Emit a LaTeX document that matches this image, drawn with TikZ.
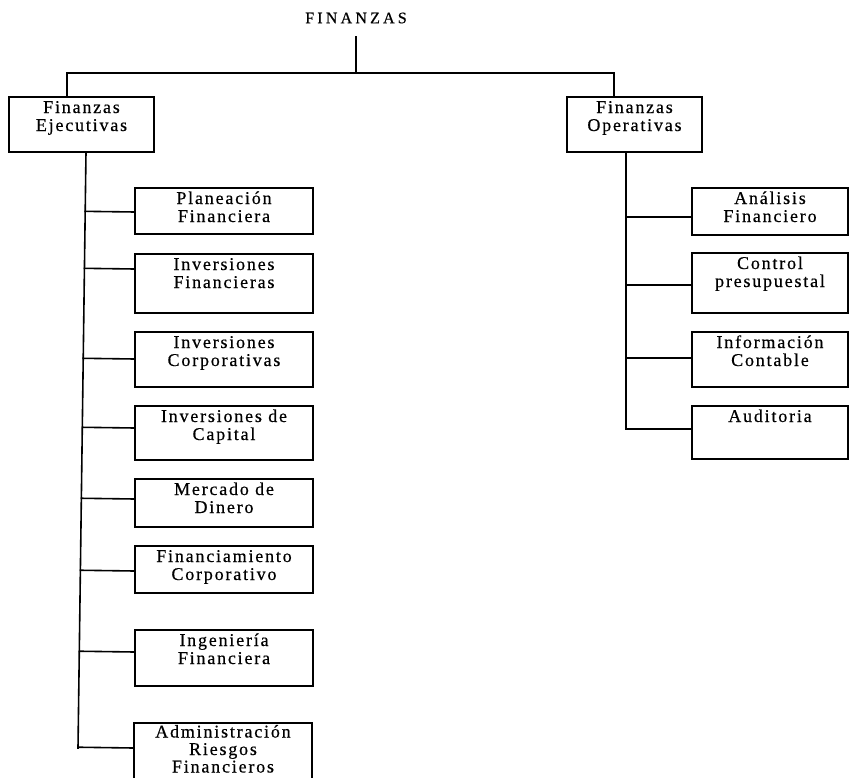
\documentclass[tikz,border=0pt]{standalone}
\usepackage{fontspec}
\setmainfont{Liberation Serif}[LetterSpace=10,FakeBold=0.5]
\usetikzlibrary{calc}
\newcommand\bxtxt[4][16pt]{\parbox[t][#3][t]{#2}{\centering\rule{0pt}{#1}#4}}
\begin{document}
\begin{tikzpicture}[x=1pt,y=-1pt,
  box/.style={draw, line width=1.4pt, inner sep=0pt, outer sep=0pt, anchor=north west, font=\fontsize{18}{18}\selectfont},
  conn/.style={line width=1.6pt, line cap=rect}]
\useasboundingbox (0,0) rectangle (850,777);
\clip (0,0) rectangle (850,777);
\node[font=\fontsize{16}{18}\selectfont\addfontfeature{LetterSpace=20}, inner sep=0pt] (title) at (356,18) {FINANZAS};
\node[box] (fe) at (9,97) {\bxtxt{145pt}{55pt}{Finanzas\\Ejecutivas}};
\node[box] (fo) at (567,97) {\bxtxt{135pt}{55pt}{Finanzas\\Operativas}};
% left column
\node[box] (pl)  at (135,188) {\bxtxt{178pt}{46pt}{Planeación\\Financiera}};
\node[box] (ifn) at (135,254) {\bxtxt{178pt}{59pt}{Inversiones\\Financieras}};
\node[box] (ico) at (135,332) {\bxtxt{178pt}{55pt}{Inversiones\\Corporativas}};
\node[box] (ica) at (135,406) {\bxtxt{178pt}{54pt}{Inversiones de\\Capital}};
\node[box] (md)  at (135,479) {\bxtxt{178pt}{48pt}{Mercado de\\Dinero}};
\node[box] (fc)  at (135,546) {\bxtxt{178pt}{47pt}{Financiamiento\\Corporativo}};
\node[box] (ing) at (135,630) {\bxtxt{178pt}{56pt}{Ingeniería\\Financiera}};
\node[box, font=\fontsize{18}{17.5}\selectfont] (adm) at (134,723) {\bxtxt[14.5pt]{178pt}{70pt}{Administración\\Riesgos\\Financieros}};
% right column
\node[box] (an) at (692,188) {\bxtxt{156pt}{47pt}{Análisis\\Financiero}};
\node[box] (cp) at (692,253) {\bxtxt{156pt}{60pt}{Control\\presupuestal}};
\node[box] (ic) at (692,332) {\bxtxt{156pt}{55pt}{Información\\Contable}};
\node[box] (au) at (692,406) {\bxtxt{156pt}{53pt}{Auditoria}};
% top connectors
\coordinate (t0) at (356,37);
\coordinate (j) at (356,73);
\coordinate (jl) at (67,73);
\coordinate (jr) at (614,73);
\draw[conn] (t0) -- (j);
\draw[conn] (jl |- fe.north) -- (jl) -- (jr) -- (jr |- fo.north);
% left trunk
\coordinate (lt0) at (fe.south -| 86,0);
\coordinate (lt1) at (78,748);
\draw[conn] (lt0) -- (lt1);
\foreach \b/\y in {pl/212, ifn/269, ico/359, ica/428, md/499, fc/571, ing/652, adm/748}{
  \coordinate (p\b) at (\b.west |- 0,\y);
  \draw[conn] ($(lt0)!(p\b)!(lt1)$) -- (p\b);
}
% right trunk
\coordinate (rt0) at (fo.south -| 626,0);
\coordinate (rt1) at (626,429);
\draw[conn] (rt0) -- (rt1);
\foreach \b/\y in {an/217, cp/285, ic/358, au/429}{
  \coordinate (p\b) at (\b.west |- 0,\y);
  \draw[conn] (rt0 |- p\b) -- (p\b);
}
\end{tikzpicture}
\end{document}
